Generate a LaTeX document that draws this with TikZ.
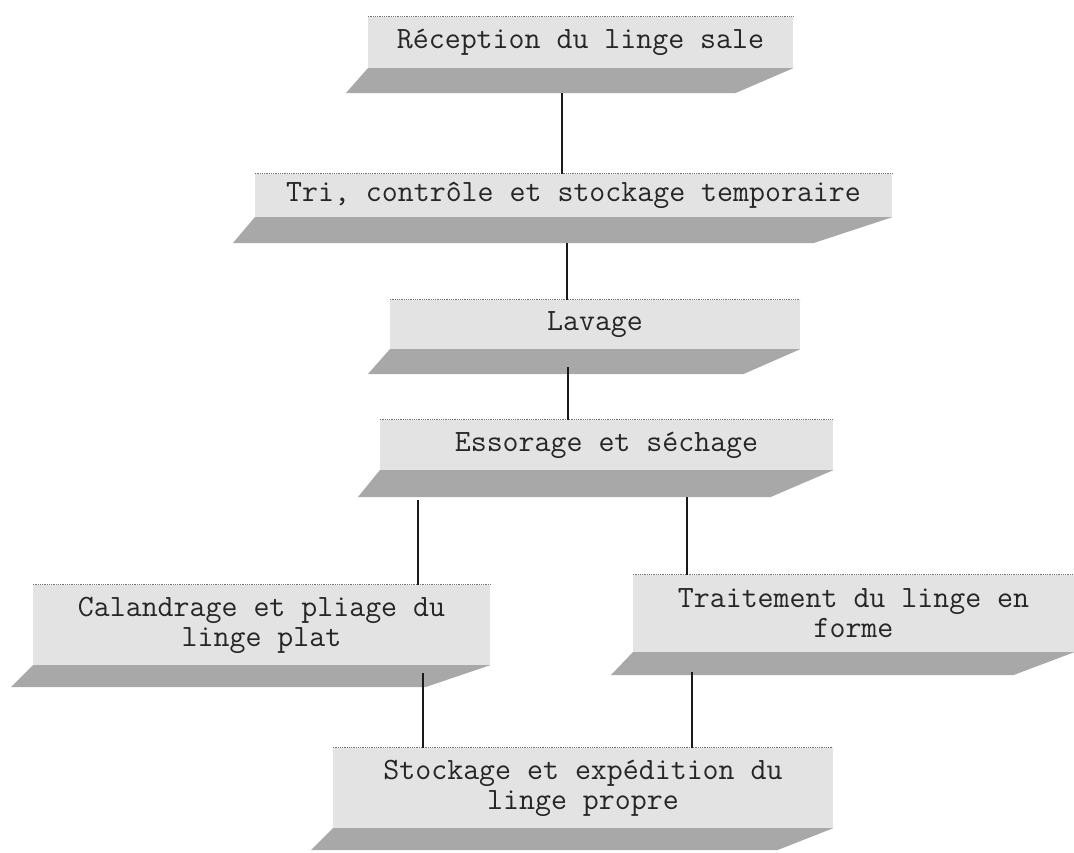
\documentclass[tikz,border=0pt]{standalone}
\usepackage{fontspec}
\usetikzlibrary{calc}
\definecolor{facegray}{gray}{0.89}
\definecolor{shelfgray}{gray}{0.66}
\tikzset{
  stagebox/.style={fill=facegray, inner sep=0pt, align=center, text=black!85,
    font=\ttfamily\fontsize{31}{30}\selectfont},
  link/.style={line width=1.3pt, black!90},
}
% dark slanted floor under a box, and the dotted top edge
\newcommand{\shelf}[3]{%
  \fill[shelfgray] (#1.south east) -- (#1.south west) -- ($(#1.south west)+(-22,#3)$) -- ($(#1.south east)+(-#2,#3)$) -- cycle;
  \draw[black!55, line width=0.8pt, densely dotted] (#1.north west) -- (#1.north east);}
\begin{document}
\begin{tikzpicture}[x=1pt, y=-1pt]
			\useasboundingbox (0,0) rectangle (1074,853);
			\node [stagebox, minimum width=425, minimum height=51] (b1) at (580.5,42.5) {Réception du linge sale};
			\node [stagebox, minimum width=637, minimum height=43] (b2) at (573.5,195.5) {Tri, contrôle et stockage temporaire};
			\node [stagebox, minimum width=410, minimum height=49] (b3) at (595,324.5) {Lavage};
			\node [stagebox, minimum width=453, minimum height=50] (b4) at (606.5,445) {Essorage et séchage};
			\node [stagebox, minimum width=457, minimum height=80] (b5) at (261.5,625) {Calandrage et pliage du\\linge plat};
			\node [stagebox, minimum width=441, minimum height=77] (b6) at (853.5,613.5) {Traitement du linge en\\forme};
			\node [stagebox, minimum width=500, minimum height=80] (b7) at (583,788) {Stockage et expédition du\\linge propre};
			\shelf{b1}{58}{25}
			\shelf{b2}{79}{26}
			\shelf{b3}{57}{25}
			\shelf{b4}{63}{27}
			\shelf{b5}{65}{22}
			\shelf{b6}{61}{23}
			\shelf{b7}{56}{22}
			% connectors
			\draw [link] (b1.south -| 562,0) ++(0,25) -- (b2.north -| 562,0);
			\draw [link] (b2.south -| 567,0) ++(0,26) -- (b3.north -| 567,0);
			\draw [link] (b3.south -| 568,0) ++(0,18) -- (b4.north -| 568,0);
			\draw [link] (b4.south -| 418,0) ++(0,30) -- (b5.north -| 418,0);
			\draw [link] (b4.south -| 687,0) ++(0,27) -- (b6.north -| 687,0);
			\draw [link] (b5.south -| 423,0) ++(0,8) -- (b7.north -| 423,0);
			\draw [link] (b6.south -| 692,0) ++(0,20) -- (b7.north -| 692,0);
		\end{tikzpicture}
\end{document}
